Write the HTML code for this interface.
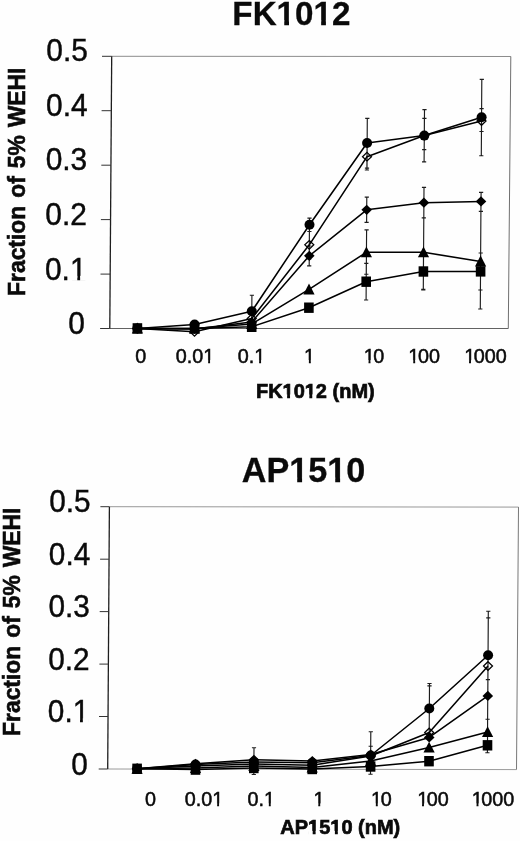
<!DOCTYPE html>
<html lang="en">
<head>
<meta charset="utf-8">
<title>FK1012 and AP1510 dose response</title>
<style>
html,body{margin:0;padding:0;background:#fff;}
body{width:520px;height:841px;overflow:hidden;}
svg{display:block;}
svg text{font-family:"Liberation Sans",Arial,Helvetica,sans-serif;fill:#0a0a0a;stroke:#0a0a0a;stroke-width:0.3px;}
</style>
</head>
<body>
<svg width="520" height="841" viewBox="0 0 520 841">
<rect width="520" height="841" fill="#fefefe"/>
<g fill="none">
<path d="M111.7 56.3L510.8 56.5" stroke="#777" stroke-width="0.85"/>
<path d="M510.8 56.5L508.3 328.5" stroke="#555" stroke-width="0.85"/>
<path d="M508.3 328.5L109.8 328.5" stroke="#505050" stroke-width="0.9"/>
<path d="M111.7 56.3L109.8 328.5" stroke="#1e1e1e" stroke-width="1.3"/>
<path d="M102 56.3H111.7M101.6 110.7H111.3M101.3 165.2H111M100.9 219.6H110.6M100.5 274.1H110.2M100.1 328.5H109.8" stroke="#333" stroke-width="1"/>
<path d="M251.9 295.2L251.7 327M249.8 295.2h4.2M249.6 327h4.2M309.5 218.1L309.4 231.5M307.4 218.1h4.2M307.3 231.5h4.2M367.3 118.3L367 168.1M365.2 118.3h4.2M364.9 168.1h4.2M424.5 109.6L424.1 161.9M422.4 109.6h4.2M422 161.9h4.2M481.8 79.4L481.3 155.7M479.7 79.4h4.2M479.2 155.7h4.2M309.4 231.5L309.2 259M307.3 231.5h4.2M307.1 259h4.2M367.1 143.5L366.9 170M365 143.5h4.2M364.8 170h4.2M424.4 118.3L424.2 149.6M422.3 118.3h4.2M422.1 149.6h4.2M481.6 108.6L481.5 131.5M479.5 108.6h4.2M479.4 131.5h4.2M309.3 246L309.2 265.8M307.2 246h4.2M307.1 265.8h4.2M366.8 197.1L366.6 222.4M364.7 197.1h4.2M364.5 222.4h4.2M424 187.3L423.8 217.8M421.9 187.3h4.2M421.7 217.8h4.2M481.1 192.3L480.9 211.4M479 192.3h4.2M478.8 211.4h4.2M366.6 229.8L366.3 274.2M364.5 229.8h4.2M364.2 274.2h4.2M423.8 217.8L423.3 289.4M421.2 289.4h4.2M480.9 211.4L480.3 309M478.2 309h4.2M366.3 263.4L366.1 300M364.2 263.4h4.2M364 300h4.2M423.5 253.5L423.3 289.9M421.4 253.5h4.2M421.2 289.9h4.2M480.7 253L480.4 290M478.6 253h4.2M478.3 290h4.2" stroke="#1c1c1c" stroke-width="1.15"/>
<polyline points="137.4,328.4 194.5,331.8 251.7,318.6 309.3,244.8 367,156.7 424.3,135.6 481.5,121" stroke="#000" stroke-width="1.55" stroke-linejoin="round"/>
<polyline points="137.4,328.4 194.5,328.4 251.7,326.8 308.9,307.7 366.2,281.7 423.4,271.5 480.6,271.4" stroke="#000" stroke-width="1.55" stroke-linejoin="round"/>
<polyline points="137.4,328.4 194.5,328.6 251.7,324 309,289.4 366.4,252.3 423.5,252.3 480.6,261.4" stroke="#000" stroke-width="1.55" stroke-linejoin="round"/>
<polyline points="137.4,328.4 194.5,329 251.7,322 309.3,255.8 366.7,209.8 423.9,202.7 481,201.4" stroke="#000" stroke-width="1.55" stroke-linejoin="round"/>
<polyline points="137.4,328.4 194.6,324.5 251.8,311.3 309.5,224.7 367.1,143 424.3,135.6 481.6,117.3" stroke="#000" stroke-width="1.55" stroke-linejoin="round"/>
</g>
<polygon points="137.4,324.1 141.9,328.4 137.4,332.7 132.9,328.4" fill="none" stroke="#000" stroke-width="1.25"/>
<polygon points="194.5,327.5 199,331.8 194.5,336.1 190,331.8" fill="none" stroke="#000" stroke-width="1.25"/>
<polygon points="251.7,314.3 256.2,318.6 251.7,322.9 247.2,318.6" fill="none" stroke="#000" stroke-width="1.25"/>
<polygon points="309.3,240.5 313.8,244.8 309.3,249.1 304.8,244.8" fill="none" stroke="#000" stroke-width="1.25"/>
<polygon points="367,152.4 371.5,156.7 367,161 362.5,156.7" fill="none" stroke="#000" stroke-width="1.25"/>
<polygon points="424.3,131.3 428.8,135.6 424.3,139.9 419.8,135.6" fill="none" stroke="#000" stroke-width="1.25"/>
<polygon points="481.5,116.7 486,121 481.5,125.3 477,121" fill="none" stroke="#000" stroke-width="1.25"/>
<rect x="132.6" y="323.2" width="9.6" height="10.4" fill="#000"/>
<rect x="189.7" y="323.2" width="9.6" height="10.4" fill="#000"/>
<rect x="246.9" y="321.6" width="9.6" height="10.4" fill="#000"/>
<rect x="304.1" y="302.5" width="9.6" height="10.4" fill="#000"/>
<rect x="361.4" y="276.5" width="9.6" height="10.4" fill="#000"/>
<rect x="418.6" y="266.3" width="9.6" height="10.4" fill="#000"/>
<rect x="475.8" y="266.2" width="9.6" height="10.4" fill="#000"/>
<polygon points="137.4,322.6 143,333.4 131.8,333.4" fill="#000"/>
<polygon points="194.5,322.8 200.1,333.6 188.9,333.6" fill="#000"/>
<polygon points="251.7,318.2 257.3,329 246.1,329" fill="#000"/>
<polygon points="309,283.6 314.6,294.4 303.4,294.4" fill="#000"/>
<polygon points="366.4,246.5 372,257.3 360.8,257.3" fill="#000"/>
<polygon points="423.5,246.5 429.1,257.3 417.9,257.3" fill="#000"/>
<polygon points="480.6,255.6 486.2,266.4 475,266.4" fill="#000"/>
<polygon points="137.4,323.3 142.7,328.4 137.4,333.5 132.1,328.4" fill="#000"/>
<polygon points="194.5,323.9 199.8,329 194.5,334.1 189.2,329" fill="#000"/>
<polygon points="251.7,316.9 257,322 251.7,327.1 246.4,322" fill="#000"/>
<polygon points="309.3,250.7 314.6,255.8 309.3,260.9 304,255.8" fill="#000"/>
<polygon points="366.7,204.7 372,209.8 366.7,214.9 361.4,209.8" fill="#000"/>
<polygon points="423.9,197.6 429.2,202.7 423.9,207.8 418.6,202.7" fill="#000"/>
<polygon points="481,196.3 486.3,201.4 481,206.5 475.7,201.4" fill="#000"/>
<circle cx="137.4" cy="328.4" r="5" fill="#000"/>
<circle cx="194.6" cy="324.5" r="5" fill="#000"/>
<circle cx="251.8" cy="311.3" r="5" fill="#000"/>
<circle cx="309.5" cy="224.7" r="5" fill="#000"/>
<circle cx="367.1" cy="143" r="5" fill="#000"/>
<circle cx="424.3" cy="135.6" r="5" fill="#000"/>
<circle cx="481.6" cy="117.3" r="5" fill="#000"/>
<g transform="translate(291.4 24.8) scale(1.000 1)"><text font-size="33.2" font-weight="bold" text-anchor="middle">FK1012</text><rect x="-13.71" y="-4.74" width="6.56" height="6.09" fill="#fefefe"/><rect x="-2.40" y="-4.74" width="6.14" height="6.09" fill="#fefefe"/><rect x="23.19" y="-4.74" width="6.56" height="6.09" fill="#fefefe"/><rect x="34.51" y="-4.74" width="6.14" height="6.09" fill="#fefefe"/></g>
<g transform="translate(87.9 61.3) scale(0.980 1)"><text font-size="30.5" style="stroke-width:0.45px" text-anchor="end">0.5</text></g>
<g transform="translate(87.6 115.8) scale(0.980 1)"><text font-size="30.5" style="stroke-width:0.45px" text-anchor="end">0.4</text></g>
<g transform="translate(87.2 170.4) scale(0.980 1)"><text font-size="30.5" style="stroke-width:0.45px" text-anchor="end">0.3</text></g>
<g transform="translate(86.9 224.9) scale(0.980 1)"><text font-size="30.5" style="stroke-width:0.45px" text-anchor="end">0.2</text></g>
<g transform="translate(86.5 279.5) scale(0.980 1)"><text font-size="30.5" style="stroke-width:0.45px" text-anchor="end">0.1</text><rect x="-15.64" y="-3.63" width="6.25" height="4.98" fill="#fefefe"/><rect x="-6.50" y="-3.63" width="6.01" height="4.98" fill="#fefefe"/></g>
<g transform="translate(85 334) scale(0.980 1)"><text font-size="30.5" style="stroke-width:0.45px" text-anchor="end">0</text></g>
<g transform="translate(140.8 363) scale(1.010 1)"><text font-size="19.6" style="stroke-width:0.5px" text-anchor="middle">0</text></g>
<g transform="translate(195 363) scale(1.010 1)"><text font-size="19.6" style="stroke-width:0.5px" text-anchor="middle">0.01</text><rect x="8.65" y="-2.81" width="4.34" height="4.16" fill="#fefefe"/><rect x="14.92" y="-2.81" width="4.18" height="4.16" fill="#fefefe"/></g>
<g transform="translate(251.5 363) scale(1.010 1)"><text font-size="19.6" style="stroke-width:0.5px" text-anchor="middle">0.1</text><rect x="3.20" y="-2.81" width="4.34" height="4.16" fill="#fefefe"/><rect x="9.47" y="-2.81" width="4.18" height="4.16" fill="#fefefe"/></g>
<g transform="translate(309.5 363) scale(1.010 1)"><text font-size="19.6" style="stroke-width:0.5px" text-anchor="middle">1</text><rect x="-4.96" y="-2.81" width="4.34" height="4.16" fill="#fefefe"/><rect x="1.31" y="-2.81" width="4.18" height="4.16" fill="#fefefe"/></g>
<g transform="translate(374 363) scale(1.010 1)"><text font-size="19.6" style="stroke-width:0.5px" dx="0 -1.3" text-anchor="middle">10</text><rect x="-9.76" y="-2.81" width="4.34" height="4.16" fill="#fefefe"/><rect x="-3.49" y="-2.81" width="4.18" height="4.16" fill="#fefefe"/></g>
<g transform="translate(424.2 363) scale(1.010 1)"><text font-size="19.6" style="stroke-width:0.5px" dx="0 -1.3" text-anchor="middle">100</text><rect x="-15.20" y="-2.81" width="4.34" height="4.16" fill="#fefefe"/><rect x="-8.94" y="-2.81" width="4.18" height="4.16" fill="#fefefe"/></g>
<g transform="translate(485.5 363) scale(1.010 1)"><text font-size="19.6" style="stroke-width:0.5px" dx="0 -1.3" text-anchor="middle">1000</text><rect x="-20.65" y="-2.81" width="4.34" height="4.16" fill="#fefefe"/><rect x="-14.38" y="-2.81" width="4.18" height="4.16" fill="#fefefe"/></g>
<g transform="translate(315.3 397.9) scale(0.985 1)"><text font-size="20.3" font-weight="bold" style="stroke-width:0.7px" text-anchor="middle">FK1012 (nM)</text><rect x="-32.99" y="-3.42" width="4.36" height="4.77" fill="#fefefe"/><rect x="-25.64" y="-3.42" width="4.10" height="4.77" fill="#fefefe"/><rect x="-10.43" y="-3.42" width="4.36" height="4.77" fill="#fefefe"/><rect x="-3.08" y="-3.42" width="4.10" height="4.77" fill="#fefefe"/></g>
<g transform="translate(25.3 181.8) rotate(-90) scale(0.990 1)"><text font-size="23.1" font-weight="bold" word-spacing="1.6" style="stroke-width:0.6px" text-anchor="middle">Fraction of 5% WEHI</text></g>
<g fill="none">
<path d="M109.4 506.7L518.5 507.1" stroke="#858585" stroke-width="0.85"/>
<path d="M518.5 507.1L516.5 769.6" stroke="#606060" stroke-width="0.85"/>
<path d="M516.5 769.6L107.7 769" stroke="#909090" stroke-width="0.9"/>
<path d="M109.4 506.7L107.7 769" stroke="#1e1e1e" stroke-width="1.3"/>
<path d="M100.4 506.7H109.4M100.1 559.2H109.1M99.7 611.6H108.7M99.4 664.1H108.4M99 716.5H108M98.7 769H107.7" stroke="#333" stroke-width="1"/>
<path d="M254 747.7L253.8 774.5M251.9 747.7h4.2M251.7 774.5h4.2M195.5 761L195.5 769M193.4 761h4.2M193.4 769h4.2M312.3 760L312.2 770M310.2 760h4.2M310.1 770h4.2M370.8 731.7L370.5 774.2M368.7 731.7h4.2M368.4 774.2h4.2M370.7 746.2L370.6 766M368.6 746.2h4.2M429.5 683.5L429.2 733.4M427.4 683.5h4.2M427.1 733.4h4.2M429.5 685.9L429.2 732M427.4 685.9h4.2M488.3 611.2L487.8 699M486.2 611.2h4.2M488.3 617.9L487.6 719.2M486.2 617.9h4.2M485.5 719.2h4.2M487.9 679.6L487.8 700M485.8 679.6h4.2M487.6 719.2L487.5 745M487.5 745L487.4 752.7M485.3 752.7h4.2" stroke="#1c1c1c" stroke-width="1.15"/>
<polyline points="137.1,768.8 195.5,766 253.9,764 312.2,765.2 370.7,756 429.2,732.5 488,666" stroke="#000" stroke-width="1.55" stroke-linejoin="round"/>
<polyline points="137.1,768.8 195.5,769.6 253.8,768 312.2,769 370.6,766.5 429,761.2 487.5,745.3" stroke="#000" stroke-width="1.55" stroke-linejoin="round"/>
<polyline points="137.1,768.8 195.5,768 253.9,766 312.2,767.5 370.6,761 429.1,747.5 487.6,732" stroke="#000" stroke-width="1.55" stroke-linejoin="round"/>
<polyline points="137.1,768.8 195.5,763.8 253.9,759.8 312.3,761 370.7,754.6 429.2,737.4 487.8,695.9" stroke="#000" stroke-width="1.55" stroke-linejoin="round"/>
<polyline points="137.1,768.8 195.5,764.6 253.9,762 312.3,762.8 370.7,755.5 429.3,708.5 488.1,655.2" stroke="#000" stroke-width="1.55" stroke-linejoin="round"/>
</g>
<polygon points="137.1,764.5 141.6,768.8 137.1,773.1 132.6,768.8" fill="none" stroke="#000" stroke-width="1.25"/>
<polygon points="195.5,761.7 200,766 195.5,770.3 191,766" fill="none" stroke="#000" stroke-width="1.25"/>
<polygon points="253.9,759.7 258.4,764 253.9,768.3 249.4,764" fill="none" stroke="#000" stroke-width="1.25"/>
<polygon points="312.2,760.9 316.7,765.2 312.2,769.5 307.7,765.2" fill="none" stroke="#000" stroke-width="1.25"/>
<polygon points="370.7,751.7 375.2,756 370.7,760.3 366.2,756" fill="none" stroke="#000" stroke-width="1.25"/>
<polygon points="429.2,728.2 433.7,732.5 429.2,736.8 424.7,732.5" fill="none" stroke="#000" stroke-width="1.25"/>
<polygon points="488,661.7 492.5,666 488,670.3 483.5,666" fill="none" stroke="#000" stroke-width="1.25"/>
<rect x="132.3" y="763.6" width="9.6" height="10.4" fill="#000"/>
<rect x="190.7" y="764.4" width="9.6" height="10.4" fill="#000"/>
<rect x="249" y="762.8" width="9.6" height="10.4" fill="#000"/>
<rect x="307.4" y="763.8" width="9.6" height="10.4" fill="#000"/>
<rect x="365.8" y="761.3" width="9.6" height="10.4" fill="#000"/>
<rect x="424.2" y="756" width="9.6" height="10.4" fill="#000"/>
<rect x="482.7" y="740.1" width="9.6" height="10.4" fill="#000"/>
<polygon points="137.1,763 142.7,773.8 131.5,773.8" fill="#000"/>
<polygon points="195.5,762.2 201.1,773 189.9,773" fill="#000"/>
<polygon points="253.9,760.2 259.5,771 248.3,771" fill="#000"/>
<polygon points="312.2,761.7 317.8,772.5 306.6,772.5" fill="#000"/>
<polygon points="370.6,755.2 376.2,766 365,766" fill="#000"/>
<polygon points="429.1,741.7 434.7,752.5 423.5,752.5" fill="#000"/>
<polygon points="487.6,726.2 493.2,737 482,737" fill="#000"/>
<polygon points="137.1,763.7 142.4,768.8 137.1,773.9 131.8,768.8" fill="#000"/>
<polygon points="195.5,758.7 200.8,763.8 195.5,768.9 190.2,763.8" fill="#000"/>
<polygon points="253.9,754.7 259.2,759.8 253.9,764.9 248.6,759.8" fill="#000"/>
<polygon points="312.3,755.9 317.6,761 312.3,766.1 307,761" fill="#000"/>
<polygon points="370.7,749.5 376,754.6 370.7,759.7 365.4,754.6" fill="#000"/>
<polygon points="429.2,732.3 434.5,737.4 429.2,742.5 423.9,737.4" fill="#000"/>
<polygon points="487.8,690.8 493.1,695.9 487.8,701 482.5,695.9" fill="#000"/>
<circle cx="137.1" cy="768.8" r="5" fill="#000"/>
<circle cx="195.5" cy="764.6" r="5" fill="#000"/>
<circle cx="253.9" cy="762" r="5" fill="#000"/>
<circle cx="312.3" cy="762.8" r="5" fill="#000"/>
<circle cx="370.7" cy="755.5" r="5" fill="#000"/>
<circle cx="429.3" cy="708.5" r="5" fill="#000"/>
<circle cx="488.1" cy="655.2" r="5" fill="#000"/>
<g transform="translate(303.6 482.4) scale(1.000 1)"><text font-size="34.2" font-weight="bold" text-anchor="middle">AP1510</text><rect x="-13.13" y="-4.84" width="6.73" height="6.19" fill="#fefefe"/><rect x="-1.51" y="-4.84" width="6.29" height="6.19" fill="#fefefe"/><rect x="24.90" y="-4.84" width="6.73" height="6.19" fill="#fefefe"/><rect x="36.52" y="-4.84" width="6.29" height="6.19" fill="#fefefe"/></g>
<g transform="translate(90.6 512.1) scale(0.960 1)"><text font-size="31" style="stroke-width:0.45px" text-anchor="end">0.5</text></g>
<g transform="translate(90.2 564.5) scale(0.960 1)"><text font-size="31" style="stroke-width:0.45px" text-anchor="end">0.4</text></g>
<g transform="translate(89.9 617) scale(0.960 1)"><text font-size="31" style="stroke-width:0.45px" text-anchor="end">0.3</text></g>
<g transform="translate(89.5 669.5) scale(0.960 1)"><text font-size="31" style="stroke-width:0.45px" text-anchor="end">0.2</text></g>
<g transform="translate(89.2 722) scale(0.960 1)"><text font-size="31" style="stroke-width:0.45px" text-anchor="end">0.1</text><rect x="-15.89" y="-3.67" width="6.33" height="5.02" fill="#fefefe"/><rect x="-6.61" y="-3.67" width="6.09" height="5.02" fill="#fefefe"/></g>
<g transform="translate(87.7 774.5) scale(0.960 1)"><text font-size="31" style="stroke-width:0.45px" text-anchor="end">0</text></g>
<g transform="translate(150.5 806.3) scale(1.010 1)"><text font-size="19.6" style="stroke-width:0.5px" text-anchor="middle">0</text></g>
<g transform="translate(204 806.3) scale(1.010 1)"><text font-size="19.6" style="stroke-width:0.5px" text-anchor="middle">0.01</text><rect x="8.65" y="-2.81" width="4.34" height="4.16" fill="#fefefe"/><rect x="14.92" y="-2.81" width="4.18" height="4.16" fill="#fefefe"/></g>
<g transform="translate(261.2 806.3) scale(1.010 1)"><text font-size="19.6" style="stroke-width:0.5px" text-anchor="middle">0.1</text><rect x="3.20" y="-2.81" width="4.34" height="4.16" fill="#fefefe"/><rect x="9.47" y="-2.81" width="4.18" height="4.16" fill="#fefefe"/></g>
<g transform="translate(318.9 806.3) scale(1.010 1)"><text font-size="19.6" style="stroke-width:0.5px" text-anchor="middle">1</text><rect x="-4.96" y="-2.81" width="4.34" height="4.16" fill="#fefefe"/><rect x="1.31" y="-2.81" width="4.18" height="4.16" fill="#fefefe"/></g>
<g transform="translate(381.3 806.3) scale(1.010 1)"><text font-size="19.6" style="stroke-width:0.5px" dx="0 -1.3" text-anchor="middle">10</text><rect x="-9.76" y="-2.81" width="4.34" height="4.16" fill="#fefefe"/><rect x="-3.49" y="-2.81" width="4.18" height="4.16" fill="#fefefe"/></g>
<g transform="translate(433 806.3) scale(1.010 1)"><text font-size="19.6" style="stroke-width:0.5px" dx="0 -1.3" text-anchor="middle">100</text><rect x="-15.20" y="-2.81" width="4.34" height="4.16" fill="#fefefe"/><rect x="-8.94" y="-2.81" width="4.18" height="4.16" fill="#fefefe"/></g>
<g transform="translate(493 806.3) scale(1.010 1)"><text font-size="19.6" style="stroke-width:0.5px" dx="0 -1.3" text-anchor="middle">1000</text><rect x="-20.65" y="-2.81" width="4.34" height="4.16" fill="#fefefe"/><rect x="-14.38" y="-2.81" width="4.18" height="4.16" fill="#fefefe"/></g>
<g transform="translate(340.3 834.3) scale(0.985 1)"><text font-size="20.3" font-weight="bold" style="stroke-width:0.7px" text-anchor="middle">AP1510 (nM)</text><rect x="-32.40" y="-3.42" width="4.36" height="4.77" fill="#fefefe"/><rect x="-25.06" y="-3.42" width="4.10" height="4.77" fill="#fefefe"/><rect x="-9.86" y="-3.42" width="4.36" height="4.77" fill="#fefefe"/><rect x="-2.51" y="-3.42" width="4.10" height="4.77" fill="#fefefe"/></g>
<g transform="translate(19.7 621.8) rotate(-90) scale(0.990 1)"><text font-size="23.1" font-weight="bold" word-spacing="1.6" style="stroke-width:0.6px" text-anchor="middle">Fraction of 5% WEHI</text></g>
</svg>
</body>
</html>
